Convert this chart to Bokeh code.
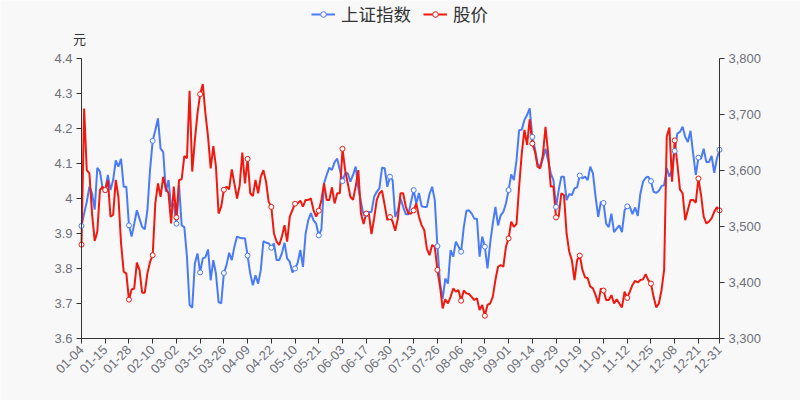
import pandas as pd
from math import pi
from bokeh.plotting import figure
from bokeh.models import (Range1d, LinearAxis, FixedTicker, NumeralTickFormatter,
                          CustomJSTickFormatter, Legend, LegendItem, ColumnDataSource, Label)
from bokeh.embed import file_html
from bokeh.resources import INLINE

# ---------------- data ----------------
holidays = ["2021-01-01", "2021-02-11", "2021-02-12", "2021-02-15", "2021-02-16", "2021-02-17",
            "2021-04-05", "2021-05-03", "2021-05-04", "2021-05-05", "2021-06-14",
            "2021-09-20", "2021-09-21", "2021-10-01", "2021-10-04", "2021-10-05",
            "2021-10-06", "2021-10-07"]
trading_days = [d for d in pd.bdate_range("2021-01-01", "2021-12-31")
                if d.strftime("%Y-%m-%d") not in holidays]
dates = [d.strftime("%m-%d") for d in trading_days]

price = [
    3.868, 4.257, 4.081, 4.072, 3.957, 3.879, 3.905, 4.024, 4.034, 4.024,
    4.053, 3.948, 3.953, 4.053, 4.005, 3.872, 3.791, 3.786, 3.711, 3.740,
    3.743, 3.817, 3.796, 3.731, 3.731, 3.786, 3.819, 3.838, 3.986, 4.043,
    4.005, 4.062, 4.029, 4.015, 3.929, 4.034, 3.946, 4.053, 4.055, 4.121,
    4.115, 4.308, 4.077, 4.167, 4.243, 4.298, 4.327, 4.243, 4.177, 4.086,
    4.150, 4.091, 3.957, 3.977, 4.025, 4.034, 4.026, 4.083, 4.043, 4.000,
    4.038, 4.131, 4.043, 4.113, 4.015, 4.007, 4.053, 4.015, 4.062, 4.081,
    4.048, 3.991, 3.976, 3.900, 3.877, 3.867, 3.891, 3.924, 3.877, 3.948,
    3.967, 3.985, 3.986, 3.994, 3.977, 3.996, 3.996, 4.000, 3.967, 3.948,
    3.965, 3.996, 4.043, 3.996, 3.996, 4.032, 3.986, 4.015, 4.015, 4.142,
    4.081, 4.043, 4.005, 3.996, 4.034, 4.081, 3.957, 3.927, 3.957, 3.957,
    3.898, 3.943, 3.996, 4.015, 4.022, 3.981, 3.938, 3.947, 3.934, 3.908,
    3.943, 4.015, 4.015, 3.977, 3.957, 3.957, 3.966, 3.986, 3.948, 3.924,
    3.910, 3.857, 3.838, 3.867, 3.862, 3.796, 3.748, 3.686, 3.712, 3.700,
    3.719, 3.743, 3.734, 3.738, 3.708, 3.737, 3.729, 3.727, 3.719, 3.710,
    3.715, 3.681, 3.696, 3.665, 3.696, 3.700, 3.719, 3.767, 3.805, 3.810,
    3.805, 3.862, 3.886, 3.934, 3.919, 3.927, 4.034, 4.129, 4.196, 4.153,
    4.226, 4.157, 4.134, 4.091, 4.086, 4.124, 4.205, 4.129, 4.034, 4.034,
    3.946, 3.948, 4.015, 4.010, 3.900, 3.848, 3.824, 3.767, 3.824, 3.837,
    3.796, 3.775, 3.772, 3.748, 3.743, 3.724, 3.700, 3.743, 3.737, 3.710,
    3.710, 3.724, 3.700, 3.712, 3.700, 3.689, 3.734, 3.716, 3.734, 3.753,
    3.765, 3.760, 3.767, 3.769, 3.784, 3.767, 3.757, 3.719, 3.689, 3.700,
    3.738, 3.796, 4.177, 4.203, 4.048, 4.166, 4.100, 4.026, 4.015, 3.938,
    3.967, 3.996, 3.996, 3.988, 4.057, 4.010, 3.948, 3.929, 3.934, 3.943,
    3.962, 3.975, 3.966]

index_vals = [
    3501, 3523, 3544, 3571, 3559, 3530, 3605, 3598, 3568, 3565,
    3592, 3565, 3583, 3618, 3607, 3621, 3571, 3571, 3502, 3482,
    3505, 3529, 3514, 3499, 3495, 3529, 3601, 3653, 3672, 3693,
    3639, 3633, 3562, 3583, 3535, 3541, 3505, 3574, 3502, 3499,
    3446, 3360, 3355, 3434, 3452, 3418, 3443, 3445, 3459, 3404,
    3440, 3416, 3365, 3363, 3417, 3431, 3453, 3440, 3464, 3482,
    3480, 3479, 3479, 3448, 3416, 3395, 3413, 3398, 3422, 3474,
    3471, 3470, 3462, 3470, 3440, 3440, 3452, 3471, 3443, 3437,
    3418, 3425, 3435, 3458, 3428, 3487, 3511, 3524, 3511, 3505,
    3484, 3495, 3577, 3592, 3605, 3601, 3615, 3621, 3601, 3581,
    3595, 3595, 3580, 3592, 3607, 3568, 3544, 3520, 3522, 3526,
    3526, 3553, 3562, 3568, 3605, 3604, 3571, 3589, 3583, 3517,
    3529, 3550, 3535, 3522, 3522, 3544, 3565, 3541, 3560, 3536,
    3535, 3535, 3558, 3571, 3547, 3465, 3398, 3371, 3407, 3398,
    3458, 3446, 3473, 3464, 3455, 3499, 3528, 3529, 3523, 3514,
    3514, 3446, 3482, 3464, 3425, 3470, 3505, 3535, 3502, 3520,
    3526, 3541, 3565, 3593, 3583, 3618, 3672, 3673, 3690, 3699,
    3711, 3660, 3639, 3612, 3607, 3621, 3639, 3618, 3595, 3583,
    3535, 3565, 3589, 3589, 3547, 3558, 3556, 3568, 3570, 3591,
    3586, 3589, 3583, 3607, 3595, 3553, 3517, 3544, 3542, 3505,
    3499, 3523, 3490, 3496, 3502, 3490, 3529, 3536, 3535, 3522,
    3534, 3519, 3559, 3580, 3587, 3589, 3581, 3562, 3560, 3564,
    3572, 3574, 3604, 3589, 3601, 3635, 3666, 3669, 3678, 3660,
    3651, 3671, 3630, 3592, 3623, 3621, 3639, 3615, 3615, 3626,
    3596, 3621, 3637]

left_ticks = [3.6, 3.7, 3.8, 3.9, 4.0, 4.1, 4.2, 4.3, 4.4]
right_ticks = [3300, 3400, 3500, 3600, 3700, 3800]
series_names = ["上证指数", "股价"]
unit_label = "元"

# ---------------- layout (pixels) ----------------
W, H = 800, 400
PLOT_L, PLOT_R, PLOT_T, PLOT_B = 81, 719, 58, 338   # where the axes sit

# ---------------- styling ----------------
BG = "#f8f8f8"
BLUE = "#4a7bf7"
RED = "#f0190f"
AXIS = "#333333"
LBL = "#6e7079"
FONT = "Liberation Sans"
CJK = "Noto Sans CJK SC"

n = len(dates)
xs = list(range(n))
step = 9
mark_idx = list(range(0, n, step))
if mark_idx[-1] != n - 1:
    mark_idx.append(n - 1)

# the frame covers the whole page; axes are pinned where the reference draws them
px_per_x = (PLOT_R - PLOT_L) / (n - 1)
x_lo = -PLOT_L / px_per_x
x_hi = (n - 1) + (W - PLOT_R) / px_per_x
lo_l, hi_l = left_ticks[0], left_ticks[-1]
lo_r, hi_r = right_ticks[0], right_ticks[-1]
ppu_l = (PLOT_B - PLOT_T) / (hi_l - lo_l)
ppu_r = (PLOT_B - PLOT_T) / (hi_r - lo_r)
top_l, bot_l = hi_l + PLOT_T / ppu_l, lo_l - (H - PLOT_B) / ppu_l
top_r, bot_r = hi_r + PLOT_T / ppu_r, lo_r - (H - PLOT_B) / ppu_r

src = ColumnDataSource(dict(x=xs, price=price, idx=index_vals))
msrc = ColumnDataSource(dict(x=mark_idx,
                             price=[price[i] for i in mark_idx],
                             idx=[index_vals[i] for i in mark_idx]))

p = figure(width=W, height=H, output_backend="svg", toolbar_location=None,
           x_range=Range1d(x_lo, x_hi), y_range=Range1d(bot_l, top_l),
           min_border_left=0, min_border_right=0, min_border_top=0, min_border_bottom=0,
           background_fill_color=BG, border_fill_color=BG, outline_line_color=None)
p.extra_y_ranges = {"idx": Range1d(bot_r, top_r)}
p.xgrid.visible = False
p.ygrid.visible = False

def style_axis(ax):
    ax.axis_line_color = AXIS
    ax.axis_line_width = 1
    ax.major_tick_line_color = AXIS
    ax.major_tick_out = 5
    ax.major_tick_in = 0
    ax.minor_tick_line_color = None
    ax.major_label_text_color = LBL
    ax.major_label_text_font = FONT
    ax.major_label_text_font_size = "13px"

yl = p.yaxis[0]
yl.ticker = FixedTicker(ticks=left_ticks)
yl.formatter = CustomJSTickFormatter(code="return String(Math.round(tick*10)/10)")
yl.major_label_standoff = 4
yl.bounds = (lo_l, hi_l)
yl.fixed_location = 0
style_axis(yl)

yr = LinearAxis(y_range_name="idx", ticker=FixedTicker(ticks=right_ticks),
                formatter=NumeralTickFormatter(format="0,0"))
yr.major_label_standoff = 4
yr.bounds = (lo_r, hi_r)
yr.fixed_location = n - 1
style_axis(yr)
p.add_layout(yr, "right")

xa = p.xaxis[0]
xa.ticker = FixedTicker(ticks=mark_idx)
xa.major_label_overrides = {i: dates[i] for i in mark_idx}
xa.major_label_orientation = pi / 4
xa.major_label_standoff = 4
xa.bounds = (0, n - 1)
xa.fixed_location = lo_l
style_axis(xa)

bl = p.line("x", "idx", source=src, y_range_name="idx", line_color=BLUE, line_width=2)
rl = p.line("x", "price", source=src, line_color=RED, line_width=2)
bm = p.scatter("x", "idx", source=msrc, y_range_name="idx", marker="circle", size=5,
               fill_color="white", line_color=BLUE, line_width=1)
rm = p.scatter("x", "price", source=msrc, marker="circle", size=5,
               fill_color="white", line_color=RED, line_width=1)

legend = Legend(items=[LegendItem(label=series_names[0], renderers=[bl, bm]),
                       LegendItem(label=series_names[1], renderers=[rl, rm])],
                orientation="horizontal", location=(311, H - 26),
                glyph_width=24, glyph_height=14, label_standoff=6, spacing=12,
                padding=0, margin=0, background_fill_alpha=0, border_line_color=None,
                label_height=20,
                label_text_font=CJK, label_text_font_size="17.5px", label_text_color="#333333")
p.add_layout(legend, "center")

# unit name above the left axis
p.add_layout(Label(x=-2 / px_per_x, y=hi_l + 20 / ppu_l,
                   text=unit_label, text_font=CJK, text_font_size="13px",
                   text_color="#333333", text_align="center", text_baseline="middle"))

open("out.html", "w").write(file_html(p, INLINE))
